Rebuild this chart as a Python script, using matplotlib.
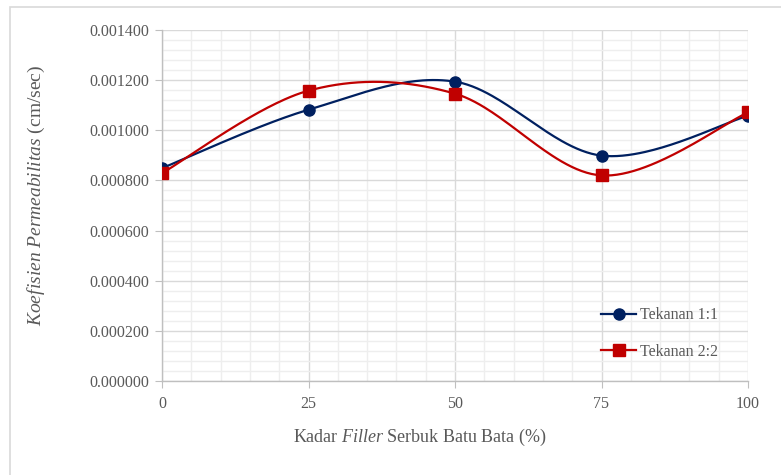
import numpy as np
import matplotlib
matplotlib.use("Agg")
import matplotlib.pyplot as plt
from matplotlib.patches import Rectangle
from matplotlib.ticker import MultipleLocator, FormatStrFormatter

plt.rcParams['font.family'] = ['Liberation Serif', 'DejaVu Serif']
plt.rcParams['mathtext.fontset'] = 'custom'
plt.rcParams['mathtext.rm'] = 'Liberation Serif'
plt.rcParams['mathtext.it'] = 'Liberation Serif:italic'

# kadar filler serbuk batu bata (%)
kadar = [0, 25, 50, 75, 100]
# koefisien permeabilitas (cm/sec)
tekanan_11 = [0.000849, 0.001082, 0.001194, 0.000899, 0.001058]
tekanan_22 = [0.000829, 0.001158, 0.001146, 0.000820, 0.001071]
label_seri = ['Tekanan 1:1', 'Tekanan 2:2']
warna = ['#002060', '#C00000']
marker = ['o', 's']

teks = '#595959'


def kurva_halus(x, y, n=60):
    """Kurva Bezier halus seperti garis 'smooth' pada Excel."""
    p = np.column_stack([x, y]).astype(float)
    p_ext = np.vstack([p[0], p, p[-1]])
    t = np.linspace(0, 1, n)[:, None]
    hasil = []
    for i in range(len(p) - 1):
        p0, p3 = p[i], p[i + 1]
        c1 = p0 + (p_ext[i + 2] - p_ext[i]) / 6
        c2 = p3 - (p_ext[i + 3] - p_ext[i + 1]) / 6
        seg = ((1 - t) ** 3) * p0 + 3 * ((1 - t) ** 2) * t * c1 + 3 * (1 - t) * t ** 2 * c2 + t ** 3 * p3
        hasil.append(seg if i == 0 else seg[1:])
    seg = np.vstack(hasil)
    return seg[:, 0], seg[:, 1]


fig = plt.figure(figsize=(7.81, 4.75), dpi=100)
ax = fig.add_axes([162 / 781, 94 / 475, 586 / 781, 351 / 475])

# bingkai area grafik
fig.patches.append(Rectangle((10 / 781, -0.1), 1.0, (468 / 475) + 0.1,
                             transform=fig.transFigure, fill=False,
                             edgecolor='#d9d9d9', linewidth=1.2))

for y, lbl, c, m in zip([tekanan_11, tekanan_22], label_seri, warna, marker):
    xs, ys = kurva_halus(kadar, y)
    ax.plot(xs, ys, color=c, linewidth=1.6, zorder=3)
    ax.plot(kadar, y, linestyle='none', marker=m, color=c, markersize=8, zorder=4)
    ax.plot([], [], color=c, linewidth=1.6, marker=m, markersize=8, label=lbl)

ax.set_xlim(0, 100)
ax.set_ylim(0, 0.0014)
ax.xaxis.set_major_locator(MultipleLocator(25))
ax.xaxis.set_minor_locator(MultipleLocator(5))
ax.yaxis.set_major_locator(MultipleLocator(0.0002))
ax.yaxis.set_minor_locator(MultipleLocator(0.00004))
ax.yaxis.set_major_formatter(FormatStrFormatter('%.6f'))

ax.grid(which='major', color='#d9d9d9', linewidth=1.0, zorder=1)
ax.grid(which='minor', color='#eeeeee', linewidth=1.0, zorder=0)
ax.set_axisbelow(True)

for s in ['top', 'right']:
    ax.spines[s].set_visible(False)
for s in ['left', 'bottom']:
    ax.spines[s].set_color('#bfbfbf')
    ax.spines[s].set_linewidth(1.0)

ax.tick_params(which='major', length=5, color='#bfbfbf', labelsize=11.5,
               labelcolor=teks, pad=4)
ax.tick_params(which='minor', length=0)
ax.tick_params(axis='x', pad=6)

ax.set_xlabel(r'Kadar $\mathit{Filler}$ Serbuk Batu Bata (%)', fontsize=13,
              color=teks)
ax.set_ylabel(r'$\mathit{Koefisien\ Permeabilitas}$ (cm/sec)', fontsize=14,
              color=teks)
ax.xaxis.set_label_coords(0.44, -0.13)
ax.yaxis.set_label_coords(-0.197, 0.53)

ax.legend(loc='center left', bbox_to_anchor=(0.725, 0.135), frameon=False,
          fontsize=11.5, labelcolor=teks, handlelength=2.2, handletextpad=0.25,
          labelspacing=1.3)

fig.savefig('out.png', dpi=100)
